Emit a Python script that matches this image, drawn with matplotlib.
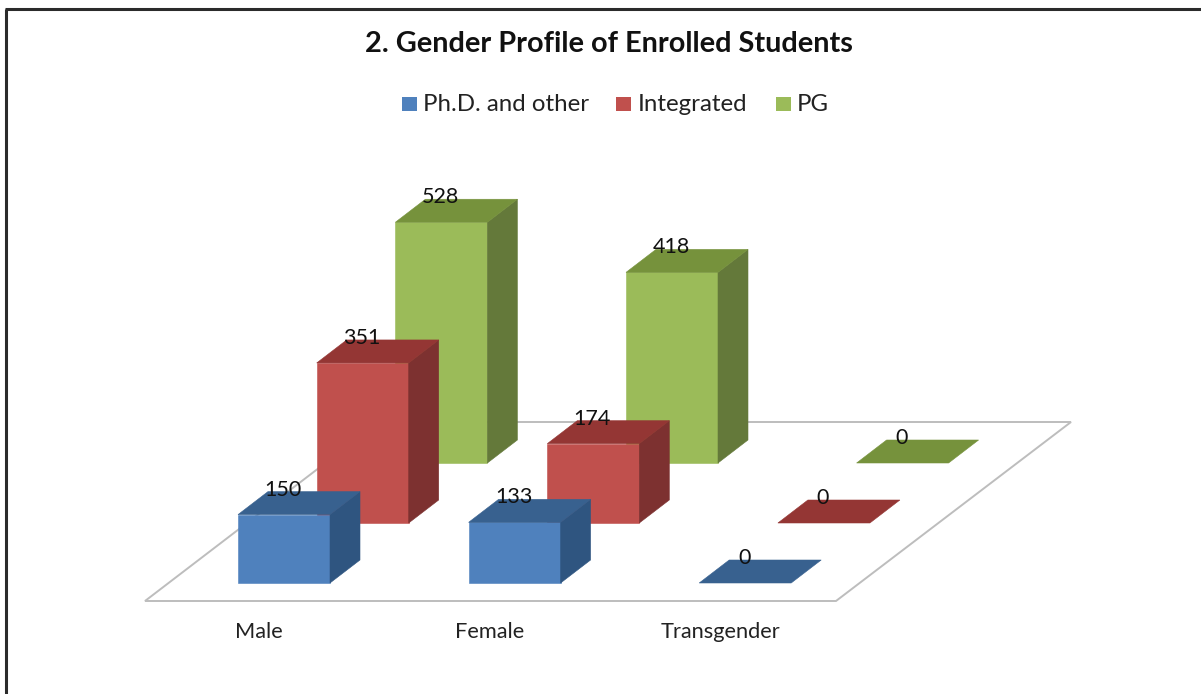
import matplotlib
matplotlib.use("Agg")
import matplotlib.pyplot as plt
from matplotlib.patches import Polygon, Rectangle

title = "2. Gender Profile of Enrolled Students"
categories = ["Male", "Female", "Transgender"]
series_names = ["Ph.D. and other", "Integrated", "PG"]
phd = [150, 133, 0]
integrated = [351, 174, 0]
pg = [528, 418, 0]
series_values = [phd, integrated, pg]

front = ["#4F81BD", "#C0504D", "#9BBB59"]
top = ["#38618F", "#943634", "#76923C"]
side = ["#2F5580", "#7D3130", "#64793A"]

W, H = 1201, 694
X0, Y0 = 238.0, 583.0      # front-left base of first bar
CAT_STEP = 230.6
SER_DX, SER_DY = 78.7, -60.0
BAR_W = 92.0
DEP_DX, DEP_DY = 30.0, -23.0
PX_PER_UNIT = 0.456


def project(cat, ser, val=0.0, along=0.0, deep=0.0):
    x = X0 + cat * CAT_STEP + ser * SER_DX + along * BAR_W + deep * DEP_DX
    y = Y0 + ser * SER_DY + deep * DEP_DY - val * PX_PER_UNIT
    return x, y


fig = plt.figure(figsize=(W / 100, H / 100), dpi=100, facecolor="white")
ax = fig.add_axes([0, 0, 1, 1])
ax.set_xlim(0, W)
ax.set_ylim(H, 0)
ax.axis("off")
plt.rcParams["font.family"] = ["Lato", "DejaVu Sans"]

# outer frame
ax.plot([6, 6], [H, 9], color="#2b2b2b", lw=2.2, solid_capstyle="butt", zorder=1)
ax.plot([5, W], [9, 9], color="#2b2b2b", lw=2.2, solid_capstyle="butt", zorder=1)

# floor
ax.add_patch(Polygon([(145, 601), (836, 601), (1071, 422), (379, 422)], closed=True,
                     facecolor="white", edgecolor="#BDBDBD", lw=1.4, zorder=2))

z = 3
for s in range(len(series_values) - 1, -1, -1):
    for c, v in enumerate(series_values[s]):
        p = lambda a, d, h: project(c, s, h, a, d)
        if v > 0:
            ax.add_patch(Polygon([p(0, 0, 0), p(1, 0, 0), p(1, 0, v), p(0, 0, v)],
                                 closed=True, fc=front[s], ec=front[s], lw=0.4, zorder=z))
            ax.add_patch(Polygon([p(1, 0, 0), p(1, 1, 0), p(1, 1, v), p(1, 0, v)],
                                 closed=True, fc=side[s], ec=side[s], lw=0.4, zorder=z))
        ax.add_patch(Polygon([p(0, 0, v), p(1, 0, v), p(1, 1, v), p(0, 1, v)],
                             closed=True, fc=top[s], ec=top[s], lw=0.4, zorder=z))
        z += 1

# data labels
for s, vals in enumerate(series_values):
    for c, v in enumerate(vals):
        x, _ = project(c, s, v, 0.49, 0.0)
        _, y = project(c, s, v, 0.49, 1.0)
        ax.text(x, y - 2.0, str(v), ha="center", va="center", fontsize=15.5,
                color="#111111", zorder=50)

# category labels
for c, name in enumerate(categories):
    x, _ = project(c, 0, 0, 0.23, 0)
    ax.text(x, 632, name, ha="center", va="center", fontsize=15.7, color="#222222", zorder=50)

# title
ax.text(608.5, 44, title, ha="center", va="center", fontsize=20.8, fontweight="bold",
        color="#111111", zorder=50)

# legend
for sq, tx, name, col in zip([402, 616, 776], [423, 638, 797], series_names, front):
    ax.add_patch(Rectangle((sq, 97), 14.5, 13.5, fc=col, ec="none", zorder=50))
    ax.text(tx, 104, name, ha="left", va="center", fontsize=17.3, color="#222222", zorder=50)

fig.savefig("out.png", dpi=100, facecolor="white")
